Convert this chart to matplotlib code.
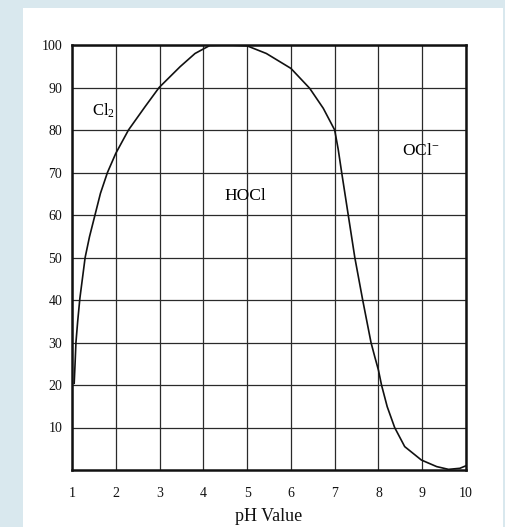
import numpy as np
import matplotlib
matplotlib.use("Agg")
from matplotlib import pyplot as plt
from matplotlib.patches import Rectangle

# HOCl fraction (%) vs pH
ph = [1.05, 1.07, 1.09, 1.13, 1.18, 1.30, 1.40, 1.525, 1.65, 1.81, 2.0, 2.29, 2.67,
      2.99, 3.47, 3.81, 4.15, 4.6, 5.0, 5.44, 6.0, 6.43, 6.74, 7.0, 7.08, 7.16, 7.31,
      7.46, 7.64, 7.83, 7.92, 8.0, 8.07, 8.2, 8.37, 8.60, 8.98, 9.33, 9.6, 9.86, 10.0]
hocl = [20.4, 25, 30, 35, 40.4, 50, 54.9, 60, 65.1, 70, 74.5, 80, 85.5,
        90, 94.9, 98.0, 99.9, 100, 99.8, 98.0, 94.5, 89.8, 85.1, 80, 75.5, 70, 60,
        50, 40, 30, 26.5, 23.5, 20, 14.9, 10, 5.5, 2.35, 0.8, 0.15, 0.4, 1.0]

x_ticks = [1, 2, 3, 4, 5, 6, 7, 8, 9, 10]
y_ticks = [10, 20, 30, 40, 50, 60, 70, 80, 90, 100]

plt.rcParams['font.family'] = ['Liberation Serif', 'DejaVu Serif']
plt.rcParams['mathtext.fontset'] = 'custom'
plt.rcParams['mathtext.rm'] = 'Liberation Serif'
plt.rcParams['mathtext.it'] = 'Liberation Serif:italic'

W, H = 505, 527
fig = plt.figure(figsize=(W / 100, H / 100), dpi=100, facecolor='#d9e8ee')
# white panel behind the chart
fig.patches.append(Rectangle((23 / W, 0), 480 / W, 1 - 8 / H, transform=fig.transFigure,
                             facecolor='white', edgecolor='none', zorder=-10))
ax = fig.add_axes([72 / W, 1 - 470 / H, (466 - 72) / W, (470 - 45) / H])
ax.set_zorder(1)
ax.patch.set_alpha(0)

ax.plot(ph, hocl, color='#111111', lw=1.2)

ax.set_xlim(1, 10)
ax.set_ylim(0, 100)
ax.set_xticks(x_ticks)
ax.set_yticks(y_ticks)
ax.tick_params(length=0, labelsize=10, colors='#111111')
ax.tick_params(axis='x', pad=12)
ax.tick_params(axis='y', pad=7)
ax.grid(True, color='#2a2a2a', lw=0.9)
for s in ax.spines.values():
    s.set_linewidth(1.8)
    s.set_color('#111111')

ax.set_xlabel('pH Value', fontsize=13, labelpad=6, color='#111111')

ax.text(1.73, 84.5, r'$\mathrm{Cl_2}$', fontsize=12, ha='center', va='center')
ax.text(4.95, 64.4, 'HOCl', fontsize=12.5, ha='center', va='center')
ax.text(8.97, 75, r'$\mathrm{OCl^{-}}$', fontsize=12.5, ha='center', va='center')

fig.savefig('out.png', dpi=100, facecolor=fig.get_facecolor())
